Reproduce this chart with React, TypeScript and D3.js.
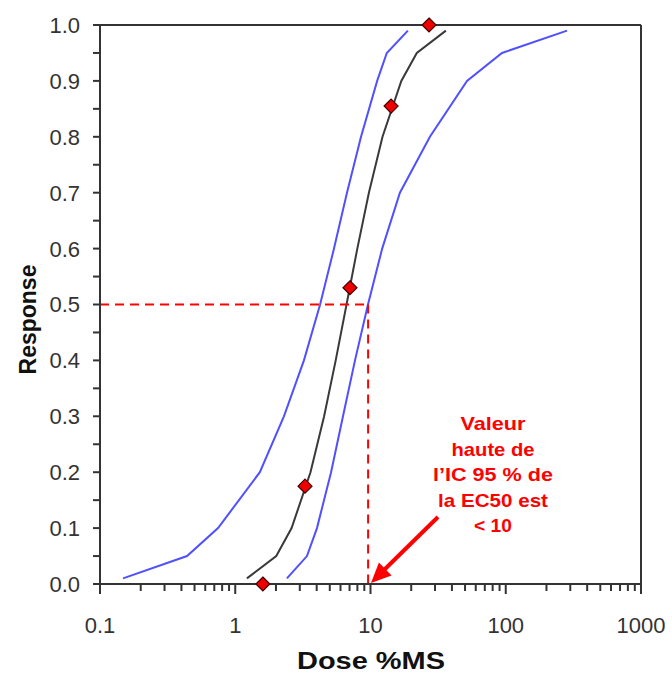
import React from "react";
import * as d3 from "d3";

const responseLevels = [0.01, 0.05, 0.1, 0.2, 0.3, 0.4, 0.5, 0.6, 0.7, 0.8, 0.9, 0.95, 0.99];
const fitDose = [1.22, 2.01, 2.61, 3.6, 4.54, 5.53, 6.65, 7.99, 9.73, 12.27, 16.9, 22.0, 36.1];
const lowerDose = [0.148, 0.44, 0.746, 1.52, 2.29, 3.22, 4.24, 5.37, 6.7, 8.51, 11.2, 13.2, 18.9];
const upperDose = [2.41, 3.39, 4.02, 5.11, 6.26, 7.68, 9.58, 12.2, 16.5, 27.5, 51.7, 93.8, 284];

const obsDose = [1.6, 3.28, 7.05, 14.2, 27.1];
const obsResponse = [0, 0.175, 0.53, 0.855, 1.0];

const ec50Upper = 9.6;
const ec50Level = 0.5;

const xTickValues = [0.1, 1, 10, 100, 1000];
const xTickLabels = ["0.1", "1", "10", "100", "1000"];
const yTickValues = [0, 0.1, 0.2, 0.3, 0.4, 0.5, 0.6, 0.7, 0.8, 0.9, 1.0];
const yTickLabels = ["0.0", "0.1", "0.2", "0.3", "0.4", "0.5", "0.6", "0.7", "0.8", "0.9", "1.0"];

const annotationLines = ["Valeur", "haute de", "l\u2019IC 95 % de", "la EC50 est", "< 10"];
const annotationWidths = [65, 83, 120, 110, 38];

export default function App() {
  const W = 672, H = 675;
  const left = 100, right = 641, top = 25, bottom = 584;
  const x = d3.scaleLog().domain([0.1, 1000]).range([left, right]);
  const y = d3.scaleLinear().domain([0, 1]).range([bottom, top]);

  const line = d3
    .line<[number, number]>()
    .x((d) => x(d[0]))
    .y((d) => y(d[1]));

  const fitPts: [number, number][] = fitDose.map((d, i) => [d, responseLevels[i]]);
  const lowPts: [number, number][] = lowerDose.map((d, i) => [d, responseLevels[i]]);
  const upPts: [number, number][] = upperDose.map((d, i) => [d, responseLevels[i]]);

  // minor ticks on log axis
  const minorX: number[] = [];
  for (let e = -1; e < 3; e++) {
    for (let m = 2; m <= 9; m++) minorX.push(m * Math.pow(10, e));
  }
  const yMinor = d3.range(0, 21).map((i) => i * 0.05);

  const axisColor = "#333";
  const font = "Liberation Sans, Arial, sans-serif";

  const xe = x(ec50Upper);
  const ye = y(ec50Level);

  const dsz = 7;

  return (
    <svg width={W} height={H} style={{ position: "absolute", left: 0, top: 0, background: "#fff" }}>
      <rect x={0} y={0} width={W} height={H} fill="#fff" />
      {/* curves */}
      <path d={line(lowPts) || ""} fill="none" stroke="#5050ff" strokeWidth={2} />
      <path d={line(upPts) || ""} fill="none" stroke="#5050ff" strokeWidth={2} />
      <path d={line(fitPts) || ""} fill="none" stroke="#3a3a3a" strokeWidth={2} />

      {/* red dashed guides */}
      <line x1={left} y1={ye} x2={xe} y2={ye} stroke="#ff0000" strokeWidth={2} strokeDasharray="9,6" />
      <line x1={xe} y1={ye} x2={xe} y2={bottom} stroke="#ff0000" strokeWidth={2} strokeDasharray="9,6" />

      {/* axes box */}
      <line x1={left} y1={top} x2={right} y2={top} stroke={axisColor} strokeWidth={2} />
      <line x1={right} y1={top} x2={right} y2={bottom} stroke={axisColor} strokeWidth={2} />
      <line x1={left} y1={top} x2={left} y2={bottom + 1} stroke={axisColor} strokeWidth={2} />
      <line x1={left - 1} y1={bottom} x2={right + 1} y2={bottom} stroke={axisColor} strokeWidth={2} />

      {/* y ticks */}
      {yMinor.map((v, i) => (
        <line key={"ym" + i} x1={left - 7} x2={left} y1={y(v)} y2={y(v)} stroke={axisColor} strokeWidth={2} />
      ))}
      {yTickValues.map((v, i) => (
        <text
          key={"yl" + i}
          x={80}
          y={y(v)}
          dy="0.36em"
          textAnchor="end"
          fontFamily={font}
          fontSize={22}
          fill={axisColor}
        >
          {yTickLabels[i]}
        </text>
      ))}

      {/* x ticks */}
      {minorX.map((v, i) => (
        <line key={"xm" + i} x1={x(v)} x2={x(v)} y1={bottom} y2={bottom + 7} stroke={axisColor} strokeWidth={2} />
      ))}
      {xTickValues.map((v, i) => (
        <g key={"xt" + i}>
          <line x1={x(v)} x2={x(v)} y1={bottom} y2={bottom + 10} stroke={axisColor} strokeWidth={2} />
          <text x={x(v)} y={633} textAnchor="middle" fontFamily={font} fontSize={22} fill={axisColor}>
            {xTickLabels[i]}
          </text>
        </g>
      ))}

      {/* axis titles */}
      <text
        x={371}
        y={669}
        textAnchor="middle"
        fontFamily={font}
        fontWeight="bold"
        fontSize={23}
        fill="#111"
        textLength={148}
        lengthAdjust="spacingAndGlyphs"
      >
        Dose %MS
      </text>
      <text
        transform={`translate(36, ${(top + bottom) / 2 + 15}) rotate(-90)`}
        textAnchor="middle"
        fontFamily={font}
        fontWeight="bold"
        fontSize={23}
        fill="#111"
      >
        Response
      </text>

      {/* observed points */}
      {obsDose.map((d, i) => {
        const cx = x(d), cy = y(obsResponse[i]);
        return (
          <path
            key={"pt" + i}
            d={`M${cx},${cy - dsz}L${cx + dsz},${cy}L${cx},${cy + dsz}L${cx - dsz},${cy}Z`}
            fill="#ee0000"
            stroke="#400"
            strokeWidth={1.2}
          />
        );
      })}

      {/* annotation */}
      {annotationLines.map((t, i) => (
        <text
          key={"an" + i}
          x={493}
          y={430 + i * 25.5}
          textAnchor="middle"
          fontFamily={font}
          fontWeight="bold"
          fontSize={19}
          fill="#ff0000"
          textLength={annotationWidths[i]}
          lengthAdjust="spacingAndGlyphs"
        >
          {t}
        </text>
      ))}
      {/* arrow */}
      <line x1={438} y1={517} x2={383} y2={571} stroke="#ff0000" strokeWidth={4} />
      <path
        d={(() => {
          const tx = 371, ty = 583;
          const ang = Math.atan2(517 - 583, 438 - 371);
          const len = 20, half = 9;
          const bx = tx + len * Math.cos(ang), by = ty + len * Math.sin(ang);
          const px = -Math.sin(ang), py = Math.cos(ang);
          return `M${tx},${ty}L${bx + half * px},${by + half * py}L${bx - half * px},${by - half * py}Z`;
        })()}
        fill="#ff0000"
      />
    </svg>
  );
}
